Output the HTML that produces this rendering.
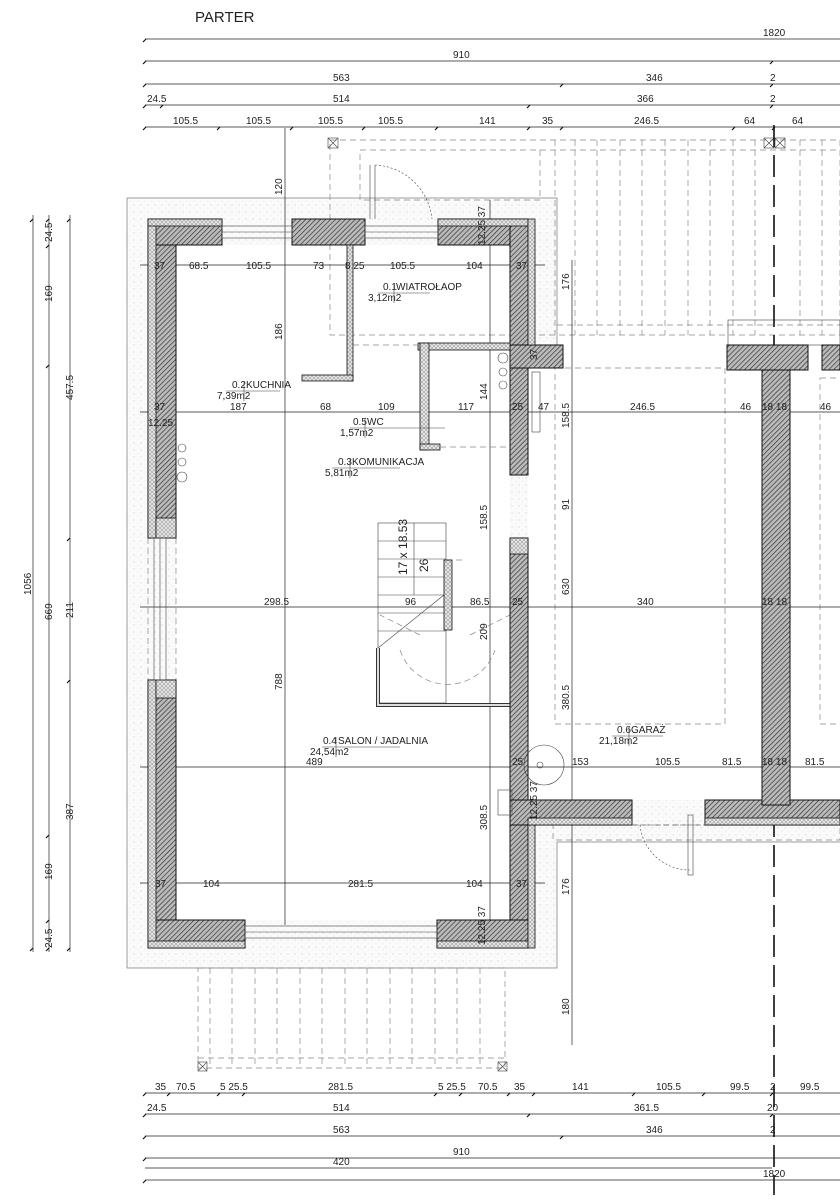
<!DOCTYPE html>
<html><head><meta charset="utf-8"><style>
html,body{margin:0;padding:0;background:#fff;}
svg{display:block;}
text{font-family:"Liberation Sans Narrow","Liberation Sans",sans-serif;font-size:10px;fill:#222;}
.t{font-size:9.5px;}
.w{fill:url(#h);stroke:#111;stroke-width:1;}
.i{fill:url(#x);stroke:#111;stroke-width:.8;}
.d{stroke:#222;stroke-width:.7;fill:none;}
.dash{stroke:#888;stroke-width:.7;fill:none;stroke-dasharray:6 4;}
.l{stroke:#444;stroke-width:.6;fill:none;}
.tk{stroke:#111;stroke-width:1.2;}
</style></head><body>
<svg width="840" height="1200" viewBox="0 0 840 1200" xmlns="http://www.w3.org/2000/svg">
<defs>
<pattern id="h" width="3.5" height="3.5" patternUnits="userSpaceOnUse" patternTransform="rotate(45)">
<rect width="4" height="4" fill="#bbb"/><line x1="0" y1="0" x2="0" y2="4" stroke="#333" stroke-width="1.4"/></pattern>
<pattern id="x" width="4" height="4" patternUnits="userSpaceOnUse">
<rect width="4" height="4" fill="#e4e4e4"/><path d="M0 0L4 4M4 0L0 4" stroke="#888" stroke-width=".5"/></pattern>
<pattern id="s" width="7" height="7" patternUnits="userSpaceOnUse">
<rect width="7" height="7" fill="#fafafa"/><circle cx="1" cy="2" r=".5" fill="#bbb"/><circle cx="5" cy="5" r=".4" fill="#ccc"/></pattern>
</defs>
<text x="195" y="22" style="font-size:15px;font-family:'Liberation Sans',sans-serif">PARTER</text>

<g class="d">
<line x1="145" y1="39" x2="840" y2="39"/><line x1="145" y1="61" x2="840" y2="61"/>
<line x1="145" y1="84" x2="840" y2="84"/><line x1="145" y1="105" x2="840" y2="105"/>
<line x1="145" y1="127" x2="840" y2="127"/>
<line x1="145" y1="1093" x2="840" y2="1093"/><line x1="145" y1="1114" x2="840" y2="1114"/>
<line x1="145" y1="1136" x2="840" y2="1136"/><line x1="145" y1="1158" x2="840" y2="1158"/>
<line x1="145" y1="1168" x2="772" y2="1168"/>
<line x1="145" y1="1180" x2="840" y2="1180"/>
<line x1="33" y1="215" x2="33" y2="952"/><line x1="49" y1="215" x2="49" y2="952"/>
<line x1="70" y1="215" x2="70" y2="952"/>
</g>
<g class="tk">
<path d="M146 127l-3 3M220 127l-3 3M293 127l-3 3M365 127l-3 3M438 127l-3 3M530 127l-3 3M563 127l-3 3M735 127l-3 3M775 127l-3 3"/>
<path d="M146 105l-3 3M163 105l-3 3M530 105l-3 3M773 105l-3 3M146 84l-3 3M563 84l-3 3M773 84l-3 3M146 61l-3 3M773 61l-3 3M146 39l-3 3"/>
<path d="M146 1093l-3 3M170 1093l-3 3M220 1093l-3 3M245 1093l-3 3M437 1093l-3 3M462 1093l-3 3M510 1093l-3 3M535 1093l-3 3M635 1093l-3 3M705 1093l-3 3M773 1093l-3 3"/>
<path d="M146 1114l-3 3M530 1114l-3 3M773 1114l-3 3M146 1136l-3 3M563 1136l-3 3M146 1158l-3 3M146 1180l-3 3"/>
<path d="M33 219l-3 3M33 948l-3 3M49 219l-3 3M49 245l-3 3M49 365l-3 3M49 835l-3 3M49 920l-3 3M49 948l-3 3M70 219l-3 3M70 538l-3 3M70 680l-3 3M70 948l-3 3"/>
</g>
<g>
<text x="763" y="36">1820</text><text x="453" y="58">910</text>
<text x="333" y="81">563</text><text x="646" y="81">346</text><text x="770" y="81">2</text>
<text x="147" y="102">24.5</text><text x="333" y="102">514</text><text x="637" y="102">366</text><text x="770" y="102">2</text>
<text x="173" y="124">105.5</text><text x="246" y="124">105.5</text><text x="318" y="124">105.5</text><text x="378" y="124">105.5</text>
<text x="479" y="124">141</text><text x="542" y="124">35</text><text x="634" y="124">246.5</text><text x="744" y="124">64</text><text x="792" y="124">64</text>
<text x="155" y="1090">35</text><text x="176" y="1090">70.5</text><text x="220" y="1090">5 25.5</text><text x="328" y="1090">281.5</text>
<text x="438" y="1090">5 25.5</text><text x="478" y="1090">70.5</text><text x="514" y="1090">35</text><text x="572" y="1090">141</text>
<text x="656" y="1090">105.5</text><text x="730" y="1090">99.5</text><text x="770" y="1090">2</text><text x="800" y="1090">99.5</text>
<text x="147" y="1111">24.5</text><text x="333" y="1111">514</text><text x="634" y="1111">361.5</text><text x="767" y="1111">20</text>
<text x="333" y="1133">563</text><text x="646" y="1133">346</text><text x="770" y="1133">2</text>
<text x="453" y="1155">910</text><text x="333" y="1165">420</text><text x="763" y="1177">1820</text>
</g>
<g>
<text transform="translate(31,595) rotate(-90)">1056</text>
<text transform="translate(52,242) rotate(-90)">24.5</text>
<text transform="translate(52,302) rotate(-90)">169</text>
<text transform="translate(52,620) rotate(-90)">669</text>
<text transform="translate(52,880) rotate(-90)">169</text>
<text transform="translate(52,948) rotate(-90)">24.5</text>
<text transform="translate(73,400) rotate(-90)">457.5</text>
<text transform="translate(73,618) rotate(-90)">211</text>
<text transform="translate(73,820) rotate(-90)">387</text>
</g>

<rect x="127" y="198" width="430" height="770" fill="url(#s)" stroke="#777" stroke-width=".7"/>
<rect x="528" y="800" width="312" height="42" fill="url(#s)"/>
<line x1="557" y1="842" x2="840" y2="842" class="l"/>
<rect x="176" y="245" width="334" height="675" fill="#fff"/>
<rect x="528" y="368" width="312" height="432" fill="#fff"/>

<g class="dash">
<rect x="330" y="140" width="510" height="195"/>
<rect x="360" y="150" width="180" height="50"/>
<line x1="555" y1="140" x2="555" y2="335"/><line x1="575" y1="140" x2="575" y2="335"/><line x1="597" y1="140" x2="597" y2="335"/>
<line x1="620" y1="140" x2="620" y2="335"/><line x1="642" y1="140" x2="642" y2="335"/><line x1="665" y1="140" x2="665" y2="335"/>
<line x1="688" y1="140" x2="688" y2="335"/><line x1="710" y1="140" x2="710" y2="335"/><line x1="733" y1="140" x2="733" y2="335"/>
<line x1="755" y1="140" x2="755" y2="335"/><line x1="800" y1="140" x2="800" y2="335"/><line x1="822" y1="140" x2="822" y2="335"/>
<line x1="540" y1="150" x2="840" y2="150"/><line x1="557" y1="325" x2="840" y2="325"/>
<rect x="198" y="968" width="307" height="100"/>
<line x1="210" y1="968" x2="210" y2="1068"/><line x1="232" y1="968" x2="232" y2="1068"/><line x1="255" y1="968" x2="255" y2="1068"/>
<line x1="277" y1="968" x2="277" y2="1068"/><line x1="300" y1="968" x2="300" y2="1068"/><line x1="322" y1="968" x2="322" y2="1068"/>
<line x1="345" y1="968" x2="345" y2="1068"/><line x1="367" y1="968" x2="367" y2="1068"/><line x1="390" y1="968" x2="390" y2="1068"/>
<line x1="412" y1="968" x2="412" y2="1068"/><line x1="435" y1="968" x2="435" y2="1068"/><line x1="457" y1="968" x2="457" y2="1068"/>
<line x1="480" y1="968" x2="480" y2="1068"/><line x1="198" y1="1058" x2="505" y2="1058"/>
<rect x="555" y="368" width="170" height="356"/><rect x="820" y="378" width="30" height="346"/>
<rect x="553" y="825" width="287" height="15"/>
<line x1="148" y1="538" x2="148" y2="680"/><line x1="176" y1="538" x2="176" y2="680"/>
</g>
<g class="l">
<rect x="328" y="138" width="10" height="10"/><path d="M328 138l10 10M338 138l-10 10"/>
<rect x="764" y="138" width="10" height="10"/><path d="M764 138l10 10M774 138l-10 10"/>
<rect x="775" y="138" width="10" height="10"/><path d="M775 138l10 10M785 138l-10 10"/>
<rect x="198" y="1062" width="9" height="9"/><path d="M198 1062l9 9M207 1062l-9 9"/>
<rect x="498" y="1062" width="9" height="9"/><path d="M498 1062l9 9M507 1062l-9 9"/>
<rect x="728" y="320" width="112" height="25"/>
</g>

<g class="d">
<line x1="285" y1="128" x2="285" y2="925"/><line x1="490" y1="200" x2="490" y2="940"/>
<line x1="572" y1="260" x2="572" y2="1045"/>
<line x1="140" y1="265" x2="545" y2="265"/><line x1="140" y1="412" x2="840" y2="412"/>
<line x1="140" y1="607" x2="840" y2="607"/><line x1="140" y1="767" x2="840" y2="767"/>
<line x1="140" y1="883" x2="545" y2="883"/>
</g>
<line x1="774" y1="125" x2="774" y2="1195" stroke="#111" stroke-width="1.6" stroke-dasharray="22 8"/>

<g class="l">
<rect x="378" y="523" width="68" height="180"/>
<line x1="378" y1="541" x2="446" y2="541"/><line x1="378" y1="559" x2="446" y2="559"/><line x1="378" y1="577" x2="446" y2="577"/>
<line x1="378" y1="595" x2="446" y2="595"/><line x1="378" y1="613" x2="446" y2="613"/><line x1="378" y1="631" x2="446" y2="631"/>
<line x1="414" y1="523" x2="414" y2="595"/><line x1="378" y1="648" x2="444" y2="595"/>
</g>
<g class="dash" stroke="#aaa"><path d="M446 560l20 0M446 705L446 630M400 650a50 50 0 0 0 95 0M420 635l-40 -20M470 635l40 -20"/></g>
<rect x="444" y="560" width="8" height="70" class="i" stroke-width="1.4"/>
<path d="M378 648v57h132" fill="none" stroke="#333" stroke-width="4"/>
<path d="M378 648v57h132" fill="none" stroke="#ddd" stroke-width="2"/>
<text transform="translate(407,575) rotate(-90)" style="font-size:12px">17 x 18.53</text>
<text transform="translate(428,572) rotate(-90)" style="font-size:12px">26</text>

<rect class="w" x="148" y="219" width="28" height="319"/>
<rect class="w" x="148" y="680" width="28" height="268"/>
<rect class="w" x="148" y="219" width="74" height="26"/>
<rect class="w" x="292" y="219" width="73" height="26"/>
<rect class="w" x="438" y="219" width="90" height="26"/>
<rect class="w" x="510" y="219" width="18" height="256"/>
<rect class="w" x="510" y="538" width="18" height="410"/>
<rect class="w" x="148" y="920" width="97" height="28"/>
<rect class="w" x="437" y="920" width="91" height="28"/>
<rect class="w" x="510" y="345" width="53" height="23"/>
<rect class="w" x="510" y="800" width="122" height="25"/>
<rect class="w" x="705" y="800" width="135" height="25"/>
<rect class="w" x="762" y="345" width="28" height="460"/>
<rect class="w" x="727" y="345" width="81" height="25"/>
<rect class="w" x="822" y="345" width="18" height="25"/>
<rect class="i" x="148" y="219" width="8" height="319"/><rect class="i" x="148" y="680" width="8" height="268"/>
<rect class="i" x="148" y="219" width="74" height="7"/><rect class="i" x="438" y="219" width="90" height="7"/>
<rect class="i" x="148" y="941" width="97" height="7"/><rect class="i" x="437" y="941" width="91" height="7"/>
<rect class="i" x="528" y="219" width="7" height="126"/><rect class="i" x="528" y="825" width="7" height="123"/>
<rect class="i" x="528" y="818" width="104" height="7"/><rect class="i" x="705" y="818" width="135" height="7"/>
<rect class="i" x="156" y="518" width="20" height="20"/><rect class="i" x="510" y="538" width="18" height="16"/>
<rect class="i" x="156" y="680" width="20" height="18"/>
<g class="l">
<rect x="222" y="226" width="70" height="12"/><line x1="222" y1="232" x2="292" y2="232"/>
<rect x="365" y="226" width="73" height="12"/><line x1="365" y1="232" x2="438" y2="232"/>
<rect x="245" y="926" width="192" height="12"/><line x1="245" y1="932" x2="437" y2="932"/>
<rect x="154" y="538" width="12" height="142"/><line x1="160" y1="538" x2="160" y2="680"/>
<line x1="370" y1="165" x2="370" y2="219"/><line x1="375" y1="165" x2="375" y2="219"/>
<path d="M375 165a60 60 0 0 1 57 54" stroke-dasharray="2 2"/>
<line x1="632" y1="825" x2="705" y2="825" stroke-dasharray="5 3"/>
<path d="M640 825a50 50 0 0 0 50 45" stroke-dasharray="2 2"/><rect x="688" y="815" width="5" height="60"/>
<circle cx="544" cy="765" r="20"/><circle cx="540" cy="765" r="3"/>
<rect x="532" y="372" width="8" height="60"/>
<circle cx="182" cy="477" r="5"/><circle cx="182" cy="448" r="4"/><circle cx="182" cy="462" r="4"/>
<circle cx="503" cy="358" r="5"/><circle cx="503" cy="372" r="4"/><circle cx="503" cy="385" r="4"/>
<rect x="498" y="790" width="14" height="25"/>
</g>
<g class="i" stroke-width=".8">
<rect x="347" y="245" width="6" height="136"/><rect x="302" y="375" width="51" height="6"/>
<rect x="418" y="343" width="92" height="7"/><rect x="420" y="343" width="9" height="107"/>
<rect x="420" y="444" width="20" height="6"/>
</g>
<g class="dash"><line x1="353" y1="345" x2="418" y2="345"/><line x1="440" y1="447" x2="510" y2="447"/></g>

<g class="t">
<text x="154" y="269">37</text><text x="189" y="269">68.5</text><text x="246" y="269">105.5</text><text x="313" y="269">73</text>
<text x="345" y="269">8 25</text><text x="390" y="269">105.5</text><text x="466" y="269">104</text><text x="516" y="269">37</text>
<text x="154" y="410">37</text><text x="230" y="410">187</text><text x="320" y="410">68</text><text x="378" y="410">109</text>
<text x="458" y="410">117</text><text x="512" y="410">25</text><text x="538" y="410">47</text><text x="630" y="410">246.5</text>
<text x="740" y="410">46</text><text x="762" y="410">18 18</text><text x="820" y="410">46</text>
<text x="148" y="426">12.25</text>
<text x="264" y="605">298.5</text><text x="405" y="605">96</text><text x="470" y="605">86.5</text><text x="512" y="605">25</text>
<text x="637" y="605">340</text><text x="762" y="605">18 18</text>
<text x="306" y="765">489</text><text x="512" y="765">25</text><text x="572" y="765">153</text><text x="655" y="765">105.5</text>
<text x="722" y="765">81.5</text><text x="762" y="765">18 18</text><text x="805" y="765">81.5</text>
<text x="155" y="887">37</text><text x="203" y="887">104</text><text x="348" y="887">281.5</text><text x="466" y="887">104</text><text x="516" y="887">37</text>
</g>
<g class="t">
<text transform="translate(282,195) rotate(-90)">120</text>
<text transform="translate(282,340) rotate(-90)">186</text>
<text transform="translate(282,690) rotate(-90)">788</text>
<text transform="translate(487,400) rotate(-90)">144</text>
<text transform="translate(487,530) rotate(-90)">158.5</text>
<text transform="translate(487,640) rotate(-90)">209</text>
<text transform="translate(487,830) rotate(-90)">308.5</text>
<text transform="translate(569,290) rotate(-90)">176</text>
<text transform="translate(569,428) rotate(-90)">158.5</text>
<text transform="translate(569,510) rotate(-90)">91</text>
<text transform="translate(569,595) rotate(-90)">630</text>
<text transform="translate(569,710) rotate(-90)">380.5</text>
<text transform="translate(569,895) rotate(-90)">176</text>
<text transform="translate(569,1015) rotate(-90)">180</text>
<text transform="translate(537,360) rotate(-90)">37</text>
<text transform="translate(537,820) rotate(-90)">12.25 37</text>
<text transform="translate(485,245) rotate(-90)">12.25 37</text>
<text transform="translate(485,945) rotate(-90)">12.25 37</text>
</g>
<g class="t">
<text x="383" y="290">0.1</text><text x="396" y="290">WIATROŁAOP</text><text x="368" y="301">3,12m2</text>
<line x1="378" y1="293" x2="430" y2="293" class="l"/><line x1="394" y1="283" x2="394" y2="303" class="l"/>
<text x="232" y="388">0.2</text><text x="246" y="388">KUCHNIA</text><text x="217" y="399">7,39m2</text>
<line x1="226" y1="391" x2="280" y2="391" class="l"/><line x1="244" y1="381" x2="244" y2="401" class="l"/>
<text x="353" y="425">0.5</text><text x="367" y="425">WC</text><text x="340" y="436">1,57m2</text>
<line x1="350" y1="428" x2="445" y2="428" class="l"/><line x1="365" y1="418" x2="365" y2="438" class="l"/>
<text x="338" y="465">0.3</text><text x="352" y="465">KOMUNIKACJA</text><text x="325" y="476">5,81m2</text>
<line x1="332" y1="468" x2="400" y2="468" class="l"/><line x1="350" y1="458" x2="350" y2="478" class="l"/>
<text x="323" y="744">0.4</text><text x="338" y="744">SALON / JADALNIA</text><text x="310" y="755">24,54m2</text>
<line x1="322" y1="747" x2="400" y2="747" class="l"/><line x1="336" y1="737" x2="336" y2="757" class="l"/>
<text x="617" y="733">0.6</text><text x="631" y="733">GARAŻ</text><text x="599" y="744">21,18m2</text>
<line x1="612" y1="736" x2="663" y2="736" class="l"/><line x1="629" y1="726" x2="629" y2="746" class="l"/>
</g>
</svg>
</body></html>
